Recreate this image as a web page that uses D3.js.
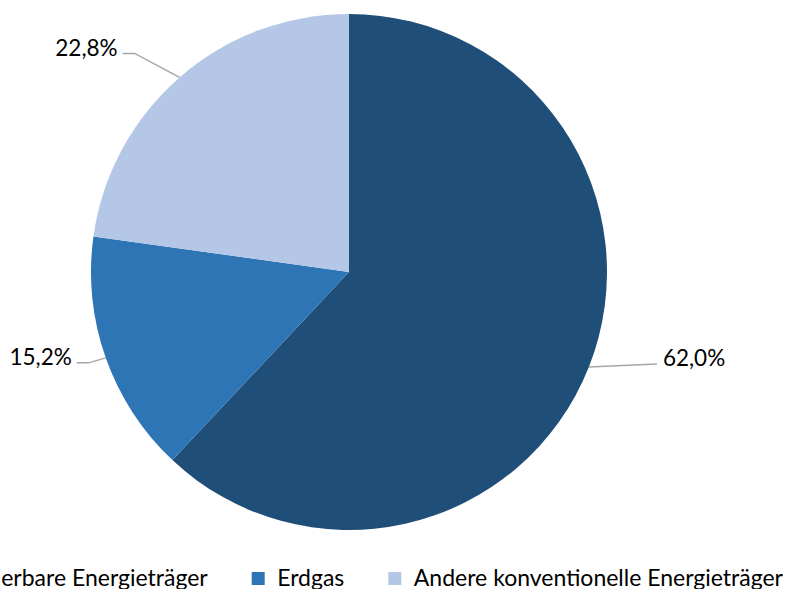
<!DOCTYPE html>
<html><head><meta charset="utf-8">
<script src="https://cdn.jsdelivr.net/npm/d3@7"></script>
<style>
html,body{margin:0;padding:0;background:#fff;}
svg{display:block;font-family:"Source Sans Pro","Lato","Noto Sans",sans-serif;}
</style></head>
<body>
<svg id="c" width="786" height="589"></svg>
<script>
const categories = ["Erneuerbare Energieträger", "Erdgas", "Andere konventionelle Energieträger"];
const values = [62.0, 15.2, 22.8];
const labels = ["62,0%", "15,2%", "22,8%"];
const colors = ["#1f4e79", "#2e75b6", "#b4c7e7"];

const svg = d3.select("#c");
const cx = 349, cy = 272, R = 258;
const FS = 22.5, LFS = 23;
const g = svg.append("g").attr("transform", `translate(${cx},${cy})`);

const pie = d3.pie().sort(null).value(d => d)(values);
const arc = d3.arc().innerRadius(0).outerRadius(R);

g.selectAll("path.slice").data(pie).enter().append("path")
  .attr("d", arc).attr("fill", (d, i) => colors[i]);

// leader lines + labels
pie.forEach((d, i) => {
  const a = (d.startAngle + d.endAngle) / 2;
  const p0 = [R * Math.sin(a), -R * Math.cos(a)];
  const right = Math.sin(a) > 0;
  let pts, tx, ty, anchor;
  if (right) {
    const end = [p0[0] + 68, p0[1] - 3];
    pts = [p0, end];
    tx = end[0] + 6; ty = end[1] - 6; anchor = "start";
  } else {
    const up = p0[1] < -100;
    const elbow = [p0[0] - (up ? 45 : 17), p0[1] + (up ? -24 : 5)];
    const end = [elbow[0] - 12, elbow[1]];
    pts = [p0, elbow, end];
    tx = end[0] - 5; ty = end[1] - 6; anchor = "end";
  }
  g.append("polyline").attr("points", pts.map(p => p.join(",")).join(" "))
    .attr("fill", "none").attr("stroke", "#a6a6a6").attr("stroke-width", 1.5);
  g.append("text").attr("x", tx).attr("y", ty).attr("text-anchor", anchor)
    .attr("dominant-baseline", "central").attr("font-size", FS).attr("fill", "#000")
    .text(labels[i]);
});

// legend
const lg = svg.append("g").attr("transform", "translate(0,577)");
const items = lg.selectAll("g.item").data(categories).enter().append("g");
items.append("rect").attr("width", 13).attr("height", 13).attr("y", -5)
  .attr("fill", (d, i) => colors[i]);
items.append("text").attr("x", 25.5).attr("dominant-baseline", "central")
  .attr("font-size", LFS).attr("fill", "#000").text(d => d);
const widths = [];
items.each(function () { widths.push(25.5 + d3.select(this).select("text").node().getComputedTextLength()); });
const gap = 44;
let xEnd = 783;
const xs = [];
for (let i = categories.length - 1; i >= 0; i--) {
  xs[i] = xEnd - widths[i];
  xEnd = xs[i] - gap;
}
items.attr("transform", (d, i) => `translate(${xs[i]},0)`);
</script>
</body></html>
